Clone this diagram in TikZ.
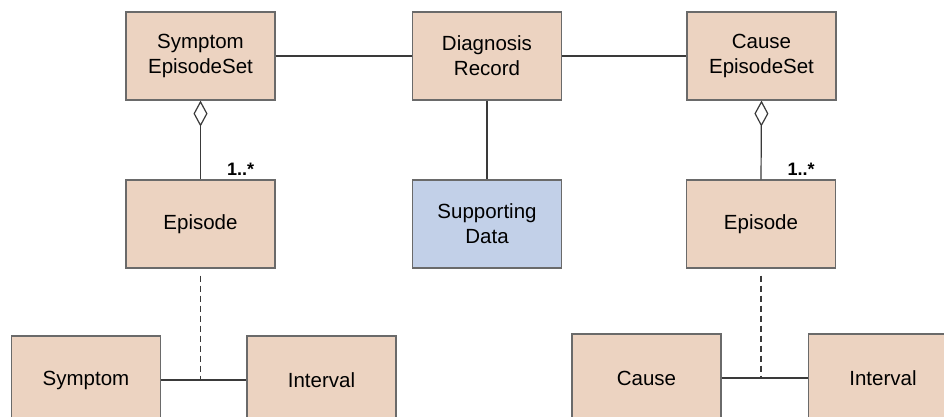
\documentclass[tikz,border=0pt]{standalone}
\usepackage{fontspec}
\setmainfont{Liberation Sans}
\usetikzlibrary{arrows.meta,calc}

\definecolor{class-fill-color}{HTML}{ECD3C1}
\definecolor{data-fill-color}{HTML}{C2D0E8}
\definecolor{class-border-color}{HTML}{6A6A6A}
\definecolor{link-color}{HTML}{3A3A3A}

\begin{document}
\begin{tikzpicture}[
x=1pt, y=-1pt,
class/.style={rectangle, draw=class-border-color, line width=1.2pt, fill=class-fill-color,
  minimum width=149pt, minimum height=88pt, inner sep=0pt, align=center,
  font=\fontsize{20.5}{25}\selectfont},
data/.style={class, fill=data-fill-color},
link/.style={draw=link-color, line width=1.2pt},
aggr/.style={link, {Diamond[open, length=26pt, width=14pt, line width=1.2pt]}-},
mult/.style={font=\fontsize{18}{20}\selectfont\bfseries, anchor=south west, inner sep=2pt}]
\clip (0,0) rectangle (944,416);

% top row
\node[class] (SymSet) at (200.5,56) {Symptom\\EpisodeSet};
\node[class] (DiagRec) at (487,56) {Diagnosis\\Record};
\node[class] (CauseSet) at (761.5,56) {Cause\\EpisodeSet};
%
% middle row
\node[class] (SymEp) at (200.5,224) {Episode};
\node[data] (SuppData) at (487,224) {Supporting\\Data};
\node[class] (CauseEp) at (761,224) {Episode};
%
% bottom row
\node[class] (Symptom) at (86,380) {Symptom};
\node[class] (SymInt) at (321.5,380) {Interval};
\node[class] (Cause) at (646.5,378) {Cause};
\node[class] (CauseInt) at (883,378) {Interval};

\draw[link] (SymSet) -- (DiagRec);
\draw[link] (DiagRec) -- (CauseSet);
\draw[link] (DiagRec) -- (SuppData);
%
\draw[aggr] (SymSet.south) -- (SymEp.north) node[mult, pos=1, xshift=24pt, yshift=1pt] {1..*};
\draw[aggr] (CauseSet.south) -- (CauseEp.north) node[mult, pos=1, xshift=24pt, yshift=1pt] {1..*};
%
\draw[link] (Symptom) -- (SymInt);
\draw[link] (Cause) -- (CauseInt);
\coordinate (SymJoin) at (SymEp.south |- Symptom.east);
\coordinate (CauseJoin) at (CauseEp.south |- Cause.east);
\draw[link, dash pattern=on 6pt off 4pt] ([yshift=-7pt]SymEp.south) -- (SymJoin);
\draw[link, dash pattern=on 6pt off 4pt] ([yshift=-7pt]CauseEp.south) -- (CauseJoin);

\end{tikzpicture}
\end{document}
